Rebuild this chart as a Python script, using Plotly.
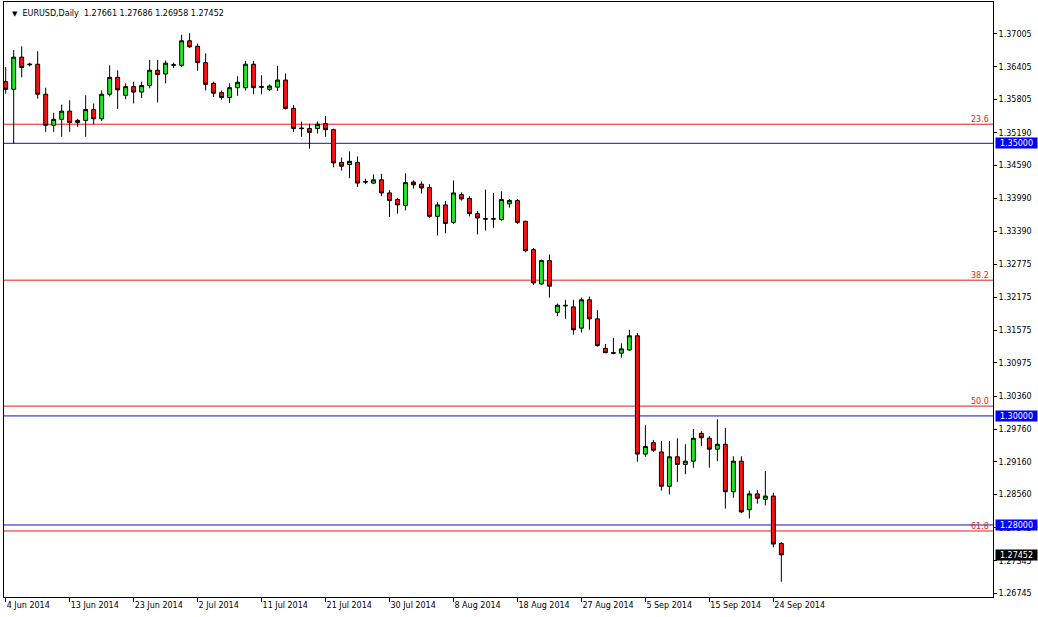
import pandas as pd
import plotly.graph_objects as go

# ---- data (EURUSD daily, MT4 style: Sun-Fri bars) ----
all_days = pd.date_range("2014-06-04", "2014-09-25", freq="D")
dates = [d for d in all_days if d.weekday() != 5]  # no Saturday bars

opens = [1.3613, 1.3599, 1.3658, 1.3644, 1.3645, 1.3590, 1.3533, 1.3544, 1.3559, 1.3538,
         1.3542, 1.3562, 1.3545, 1.3590, 1.3621, 1.3588, 1.3604, 1.3594, 1.3606, 1.3634,
         1.3627, 1.3643, 1.3643, 1.3688, 1.3678, 1.3648, 1.3610, 1.3593, 1.3584, 1.3602,
         1.3602, 1.3645, 1.3604, 1.3599, 1.3603, 1.3616, 1.3564, 1.3528, 1.3527, 1.3527,
         1.3536, 1.3525, 1.3465, 1.3461, 1.3465, 1.3430, 1.3427, 1.3433, 1.3409, 1.3397,
         1.3386, 1.3429, 1.3425, 1.3419, 1.3366, 1.3387, 1.3355, 1.3406, 1.3399, 1.3371,
         1.3362, 1.3362, 1.3360, 1.3389, 1.3395, 1.3357, 1.3305, 1.3242, 1.3285, 1.3190,
         1.3203, 1.3200, 1.3161, 1.3213, 1.3178, 1.3124, 1.3116, 1.3115, 1.3121, 1.3147,
         1.2930, 1.2951, 1.2934, 1.2871, 1.2925, 1.2911, 1.2917, 1.2968, 1.2959, 1.2939,
         1.2948, 1.2861, 1.2917, 1.2828, 1.2857, 1.2847, 1.2853, 1.27661]
highs = [1.3640, 1.3671, 1.3678, 1.3648, 1.3669, 1.3602, 1.3556, 1.3571, 1.3579, 1.3545,
         1.3588, 1.3573, 1.3597, 1.3643, 1.3634, 1.3610, 1.3613, 1.3613, 1.3653, 1.3653,
         1.3652, 1.3648, 1.3699, 1.3702, 1.3683, 1.3665, 1.3613, 1.3597, 1.3610, 1.3623,
         1.3651, 1.3651, 1.3625, 1.3608, 1.3642, 1.3628, 1.3570, 1.3540, 1.3536, 1.3540,
         1.3550, 1.3527, 1.3474, 1.3485, 1.3476, 1.3435, 1.3443, 1.3444, 1.3414, 1.3400,
         1.3445, 1.3432, 1.3430, 1.3425, 1.3392, 1.3394, 1.3432, 1.3410, 1.3403, 1.3376,
         1.3415, 1.3409, 1.3412, 1.3398, 1.3398, 1.3358, 1.3308, 1.3287, 1.3296, 1.3206,
         1.3213, 1.3213, 1.3217, 1.3219, 1.3194, 1.3132, 1.3143, 1.3133, 1.3158, 1.3152,
         1.2983, 1.2956, 1.2954, 1.2954, 1.2959, 1.2948, 1.2976, 1.2972, 1.2963, 1.2994,
         1.2978, 1.2926, 1.2926, 1.2863, 1.2864, 1.2899, 1.2859, 1.27686]
lows = [1.3591, 1.3499, 1.3621, 1.3641, 1.3582, 1.3521, 1.3521, 1.3512, 1.3521, 1.3530,
        1.3512, 1.3535, 1.3541, 1.3586, 1.3563, 1.3581, 1.3573, 1.3583, 1.3601, 1.3575,
        1.3610, 1.3638, 1.3640, 1.3675, 1.3633, 1.3597, 1.3585, 1.3580, 1.3574, 1.3587,
        1.3597, 1.3590, 1.3590, 1.3596, 1.3596, 1.3562, 1.3521, 1.3512, 1.3490, 1.3518,
        1.3512, 1.3456, 1.3450, 1.3436, 1.3420, 1.3425, 1.3425, 1.3403, 1.3365, 1.3371,
        1.3377, 1.3417, 1.3408, 1.3363, 1.3331, 1.3335, 1.3352, 1.3395, 1.3366, 1.3333,
        1.3340, 1.3345, 1.3358, 1.3382, 1.3352, 1.3300, 1.3240, 1.3240, 1.3217, 1.3183,
        1.3178, 1.3149, 1.3153, 1.3158, 1.3127, 1.3115, 1.3113, 1.3107, 1.3119, 1.2916,
        1.2925, 1.2934, 1.2863, 1.2856, 1.2879, 1.2893, 1.2905, 1.2945, 1.2905, 1.2917,
        1.2830, 1.2850, 1.2822, 1.2812, 1.2839, 1.2836, 1.2759, 1.26958]
closes = [1.3599, 1.3658, 1.3639, 1.3645, 1.3590, 1.3533, 1.3544, 1.3559, 1.3538, 1.3542,
          1.3562, 1.3545, 1.3590, 1.3621, 1.3598, 1.3604, 1.3594, 1.3606, 1.3634, 1.3626,
          1.3647, 1.3644, 1.3688, 1.3677, 1.3648, 1.3608, 1.3592, 1.3584, 1.3602, 1.3612,
          1.3645, 1.3602, 1.3603, 1.3605, 1.3616, 1.3564, 1.3527, 1.3527, 1.3520, 1.3535,
          1.3525, 1.3464, 1.3458, 1.3467, 1.3427, 1.3429, 1.3433, 1.3409, 1.3395, 1.3387,
          1.3428, 1.3424, 1.3418, 1.3366, 1.3387, 1.3353, 1.3409, 1.3398, 1.3371, 1.3363,
          1.3361, 1.3361, 1.3397, 1.3395, 1.3355, 1.3303, 1.3244, 1.3285, 1.3238, 1.3203,
          1.3202, 1.3158, 1.3213, 1.3178, 1.3129, 1.3116, 1.3115, 1.3123, 1.3147, 1.2930,
          1.2944, 1.2937, 1.2871, 1.2925, 1.2911, 1.2917, 1.2959, 1.2960, 1.2939, 1.2948,
          1.2861, 1.2917, 1.2824, 1.2857, 1.2849, 1.2853, 1.2765, 1.27452]

fib_levels = ["23.6", "38.2", "50.0", "61.8"]
fib_prices = [1.3535, 1.3249, 1.3018, 1.2789]
round_levels = [1.35000, 1.30000, 1.28000]
last_price = 1.27452

y_ticks = [1.37005, 1.36405, 1.35805, 1.35190, 1.34590, 1.33990, 1.33390, 1.32775,
           1.32175, 1.31575, 1.30975, 1.30360, 1.29760, 1.29160, 1.28560, 1.27945,
           1.27345, 1.26745]
title_text = "EURUSD,Daily  1.27661 1.27686 1.26958 1.27452"

# ---- figure ----
idx = list(range(len(dates)))
tick_idx = idx[::8]
tick_txt = [f"{dates[i].day} {dates[i].strftime('%b %Y')}" for i in tick_idx]

FONT = "Tahoma, 'DejaVu Sans', sans-serif"

fig = go.Figure()
fig.add_trace(go.Candlestick(
    x=idx, open=opens, high=highs, low=lows, close=closes,
    increasing=dict(fillcolor="#1EEB1E", line=dict(color="black", width=1)),
    decreasing=dict(fillcolor="#FF1010", line=dict(color="black", width=1)),
    whiskerwidth=0, showlegend=False, hoverinfo="skip",
))

shapes = []
for p in fib_prices:
    shapes.append(dict(type="line", xref="paper", x0=0, x1=1, yref="y", y0=p, y1=p,
                       line=dict(color="#E41B1B", width=1), layer="below"))
for p in round_levels:
    shapes.append(dict(type="line", xref="paper", x0=0, x1=1, yref="y", y0=p, y1=p,
                       line=dict(color="#1010C8", width=1), layer="below"))

annotations = []
annotations.append(dict(xref="paper", yref="paper", x=0.006, y=(597 - 13) / 595,
                        xanchor="left", yanchor="middle", showarrow=False,
                        text="<span style='font-size:7px'>▼</span>  " + title_text,
                        font=dict(family=FONT, size=8, color="black")))
for lab, p in zip(fib_levels, fib_prices):
    annotations.append(dict(xref="paper", yref="y", x=0.9975, y=p, xanchor="right",
                            yanchor="bottom", showarrow=False, text=lab, yshift=-2,
                            font=dict(family=FONT, size=8, color="#E41B1B")))
for p in round_levels:
    annotations.append(dict(xref="paper", yref="y", x=(995 - 4) / 989, y=p, xanchor="left",
                            yanchor="middle", showarrow=False, text=f"{p:.5f}",
                            bgcolor="#0000FF", borderpad=0, width=41, height=10,
                            align="center",
                            font=dict(family=FONT, size=8, color="white")))
annotations.append(dict(xref="paper", yref="y", x=(995 - 4) / 989, y=last_price,
                        xanchor="left", yanchor="middle", showarrow=False,
                        text=f"{last_price:.5f}", bgcolor="black", borderpad=0,
                        width=41, height=10, align="center",
                        font=dict(family=FONT, size=8, color="white")))

fig.update_layout(
    width=1038, height=617,
    margin=dict(l=4, r=45, t=2, b=20),
    paper_bgcolor="white", plot_bgcolor="white",
    boxgap=0.3,
    shapes=shapes, annotations=annotations,
    font=dict(family=FONT, size=8, color="black"),
    xaxis=dict(
        range=[-0.2125, 123.47], showgrid=False, zeroline=False,
        rangeslider=dict(visible=False),
        tickvals=tick_idx, ticktext=tick_txt, ticks="outside", ticklen=4,
        tickcolor="black", ticklabelposition="outside right",
        showline=True, linecolor="black", linewidth=1, mirror=True,
        tickfont=dict(family=FONT, size=8, color="black"),
    ),
    yaxis=dict(
        range=[1.26679, 1.375917], side="right", showgrid=False, zeroline=False,
        tickvals=y_ticks, ticktext=[f"{v:.5f}" for v in y_ticks],
        ticks="outside", ticklen=3, tickcolor="black",
        showline=True, linecolor="black", linewidth=1, mirror=True,
        tickfont=dict(family=FONT, size=8, color="black"),
    ),
)

fig.write_html("out.html", config={"displayModeBar": False},
               post_script="document.body.style.margin='0px';document.body.style.overflow='hidden';")
